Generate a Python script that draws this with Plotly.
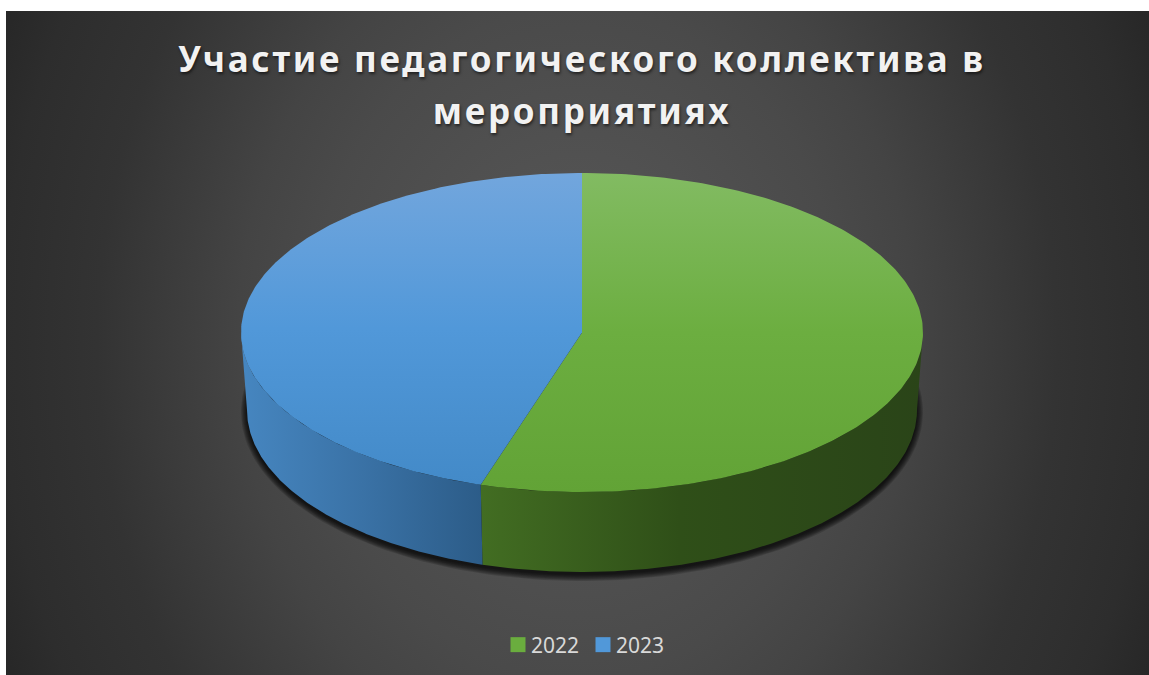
import numpy as np
import plotly.graph_objects as go

years = ["2022", "2023"]
shares = [54.8, 45.2]
title_text = "Участие педагогического коллектива в<br>мероприятиях"

swatch_colors = ["#6AAD3E", "#5198D9"]
# y axis is reversed, so stops run from the bottom of each face to its top
top_gradients = [
    [[0, "#62A336"], [0.5, "#6CAE40"], [1, "#82BB62"]],
    [[0, "#438AC8"], [0.5, "#5198D9"], [1, "#72A6DD"]],
]
wall_gradients = [
    [[0, "#426D22"], [0.45, "#2F4F18"], [1, "#2A4418"]],
    [[0, "#4686C0"], [0.5, "#3A72A6"], [1, "#2C5C88"]],
]

W, H = 1149, 675
LEFT, TOP = 6, 11
CX, CY, RX, RY = 582, 332.5, 341, 159.5
BCY, BRX, BRY = 410, 335, 162


def arc(cx, cy, rx, ry, a0, a1, n=240):
    t = np.radians(np.linspace(a0, a1, n))
    return cx + rx * np.sin(t), cy - ry * np.cos(t)


fig = go.Figure()

# background glow
gx, gy, grx, gry = 577, 343, 640, 800
fig.add_trace(go.Scatter(
    x=[gx - grx, gx + grx, gx + grx, gx - grx, gx - grx],
    y=[gy - gry, gy - gry, gy + gry, gy + gry, gy - gry],
    mode="lines", line=dict(width=0), fill="toself",
    fillgradient=dict(type="radial", colorscale=[
        [0, "#5A5A5A"], [0.42, "#4A4A4A"], [0.53, "#444444"],
        [0.75, "#333333"], [0.9, "#2D2D2D"], [1, "#262626"]]),
    hoverinfo="skip", showlegend=False,
))

# soft shadow under the disc
for i in range(7):
    sx, sy = arc(CX, BCY + 2, BRX + 6 - i, BRY + 7 - i, 0, 360, 200)
    fig.add_trace(go.Scatter(
        x=sx, y=sy, mode="lines", line=dict(width=0), fill="toself",
        fillcolor="rgba(0,0,0,0.16)", hoverinfo="skip", showlegend=False,
    ))

# slice angles
edges = np.concatenate([[0], np.cumsum(shares)]) / np.sum(shares) * 360

# side walls (only the front half, angles 90..270, is visible)
for k, (a0, a1) in enumerate(zip(edges[:-1], edges[1:])):
    lo, hi = max(a0, 90), min(a1, 270)
    ux, uy = arc(CX, CY, RX, RY, lo, hi)
    lx, ly = arc(CX, BCY, BRX, BRY, hi, lo)
    fig.add_trace(go.Scatter(
        x=np.concatenate([ux, lx, ux[:1]]), y=np.concatenate([uy, ly, uy[:1]]),
        mode="lines", line=dict(width=0), fill="toself",
        fillgradient=dict(type="horizontal", colorscale=wall_gradients[k]),
        hoverinfo="skip", showlegend=False,
    ))

# top face
for k, (a0, a1) in enumerate(zip(edges[:-1], edges[1:])):
    ax, ay = arc(CX, CY, RX, RY, a0, a1)
    fig.add_trace(go.Scatter(
        x=np.concatenate([[CX], ax, [CX]]), y=np.concatenate([[CY], ay, [CY]]),
        mode="lines", line=dict(width=0), fill="toself",
        fillgradient=dict(type="vertical", colorscale=top_gradients[k]),
        hoverinfo="skip", showlegend=False,
    ))

# legend entries
for name, c in zip(years, swatch_colors):
    fig.add_trace(go.Scatter(
        x=[None], y=[None], mode="markers", name=name,
        marker=dict(symbol="square", size=15, color=c),
    ))

fig.update_layout(
    width=W, height=H,
    margin=dict(l=LEFT, t=TOP, r=0, b=0, pad=0),
    paper_bgcolor="white", plot_bgcolor="#333333",
    xaxis=dict(range=[LEFT, W], visible=False, fixedrange=True),
    yaxis=dict(range=[H, TOP], visible=False, fixedrange=True),
    title=dict(
        text=title_text, x=582 / W, xanchor="center", y=1 - 72 / H, yanchor="top",
        font=dict(family="Noto Sans", size=35, color="#F2F2F2", weight="bold",
                  shadow="1px 2px 3px rgba(0,0,0,0.55)"),
    ),
    legend=dict(
        orientation="h", x=(576 - LEFT) / (W - LEFT), xanchor="center",
        y=(H - 645) / (H - TOP), yanchor="middle", entrywidth=40, entrywidthmode="pixels",
        bgcolor="rgba(0,0,0,0)", font=dict(family="Noto Sans", size=21, color="#D9D9D9"),
        itemclick=False, itemdoubleclick=False,
    ),
    showlegend=True,
)

fig.write_html(
    "out.html",
    config={"displayModeBar": False},
    post_script=(
        "document.body.style.margin='0';"
        "document.querySelectorAll('.gtitle').forEach(function(e){e.style.letterSpacing='2.7px';"
        "var l=e.querySelectorAll('tspan.line');"
        "if(l.length>1){l[1].setAttribute('y',parseFloat(l[1].getAttribute('y'))+6);}});"
        "document.querySelectorAll('.legend .scrollbox').forEach(function(e){e.removeAttribute('clip-path');e.style.clipPath='none';});"
        "document.querySelectorAll('.legendpoints').forEach(function(e){e.setAttribute('transform','translate(7,0)');});"
    ),
)
